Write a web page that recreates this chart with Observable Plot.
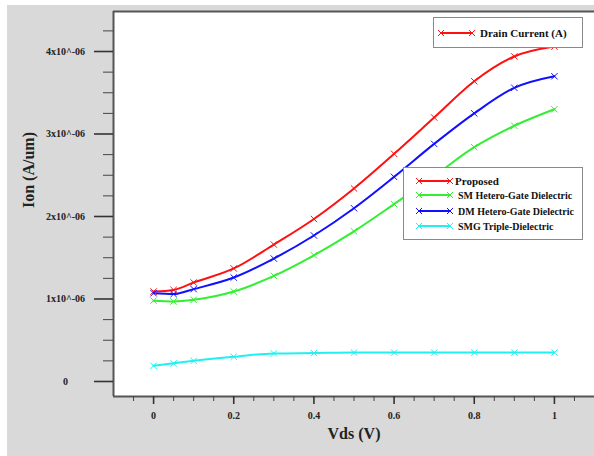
<!DOCTYPE html>
<html><head><meta charset="utf-8">
<script src="https://cdn.jsdelivr.net/npm/d3@7"></script>
<script src="https://cdn.jsdelivr.net/npm/@observablehq/plot@0.6"></script>
<style>
body{margin:0;background:#fff;width:594px;height:456px;position:relative;overflow:hidden;font-family:"Liberation Serif",serif;}
#wrap{position:absolute;left:7px;top:5px;width:587px;height:451px;background:#d9d9d9;}
#wrap svg text{font-family:"Liberation Serif",serif;}
.leg{position:absolute;background:#fff;border:1px solid #8a8a8a;box-sizing:border-box;}
.row{position:absolute;height:14px;display:flex;align-items:center;font-weight:bold;white-space:nowrap;color:#111;}
.row svg{flex:none;}
</style>
</head><body>
<div id="wrap"></div>
<script>
const vds = [0, 0.05, 0.1, 0.2, 0.3, 0.4, 0.5, 0.6, 0.7, 0.8, 0.9, 1.0];
const proposed  = [1.09, 1.11, 1.20, 1.37, 1.66, 1.97, 2.34, 2.76, 3.20, 3.64, 3.94, 4.06];
const smHetero  = [0.98, 0.97, 0.99, 1.09, 1.28, 1.53, 1.82, 2.15, 2.49, 2.84, 3.10, 3.30];
const dmHetero  = [1.07, 1.06, 1.12, 1.26, 1.49, 1.77, 2.10, 2.48, 2.88, 3.25, 3.56, 3.70];
const smgTriple = [0.19, 0.22, 0.25, 0.30, 0.34, 0.345, 0.35, 0.35, 0.35, 0.35, 0.35, 0.35];
const seriesNames = ["Proposed", "SM Hetero-Gate Dielectric", "DM Hetero-Gate Dielectric", "SMG Triple-Dielectric"];
const seriesColors = ["#ff1010", "#33ee33", "#1010ff", "#22f0f0"];
const seriesValues = [proposed, smHetero, dmHetero, smgTriple];
const unit = 1e-6;
const yMajor = [0, 1, 2, 3, 4];
const yMinor = [0.25, 0.5, 0.75, 1.25, 1.5, 1.75, 2.25, 2.5, 2.75, 3.25, 3.5, 3.75, 4.25];
const xMajor = [0, 0.2, 0.4, 0.6, 0.8, 1];
const xMajorLabels = ["0", "0.2", "0.4", "0.6", "0.8", "1"];
const xMinor = [-0.05, 0.05, 0.1, 0.15, 0.25, 0.3, 0.35, 0.45, 0.5, 0.55, 0.65, 0.7, 0.75, 0.85, 0.9, 0.95, 1.05];
const xDomain = [-0.1, 1.1];
const yDomain = [-0.182, 4.485];

const rows = seriesNames.flatMap((name, i) => vds.map((v, j) => ({name, vds: v, ion: seriesValues[i][j] * unit})));
const fmtY = d => d === 0 ? "0" : `${Math.round(d / unit)}x10^-06`;
const fmtX = d => xMajorLabels[xMajor.indexOf(d)] ?? String(d);
const ff = "Liberation Serif";

const chart = Plot.plot({
  width: 587, height: 451,
  marginLeft: 106, marginTop: 6, marginBottom: 60, marginRight: 0,
  style: {fontFamily: ff, background: "transparent", color: "#222"},
  x: {domain: xDomain},
  y: {domain: yDomain.map(d => d * unit)},
  color: {domain: seriesNames, range: seriesColors},
  marks: [
    Plot.frame({fill: "white", stroke: null}),
    Plot.ruleX([xDomain[0]], {stroke: "#555", strokeWidth: 2}),
    Plot.ruleY([yDomain[0] * unit], {stroke: "#555", strokeWidth: 2}),
    Plot.ruleY([yDomain[1] * unit], {stroke: "#555", strokeWidth: 2}),
    Plot.line(rows, {x: "vds", y: "ion", z: "name", stroke: "name", strokeWidth: 2, curve: "monotone-x"}),
    Plot.dot(rows, {x: "vds", y: "ion", stroke: "name", symbol: "times", r: 3, strokeWidth: 1}),
    Plot.axisY(yMajor.map(d => d * unit), {tickSize: 19, tickPadding: 29, textAnchor: "middle", tickFormat: fmtY, fontSize: 10, fontWeight: "bold", fontFamily: ff, strokeWidth: 1.6, stroke: "#333", label: null}),
    Plot.axisY(yMinor.map(d => d * unit), {tickSize: 10, tickFormat: () => "", strokeWidth: 1, stroke: "#444", label: null}),
    Plot.axisX(xMajor, {tickSize: 8, tickPadding: 7, tickFormat: fmtX, fontSize: 10, fontWeight: "bold", fontFamily: ff, strokeWidth: 1.6, stroke: "#333", label: null}),
    Plot.axisX(xMinor, {tickSize: 5, tickFormat: () => "", strokeWidth: 1, stroke: "#444", label: null}),
    Plot.text(["Vds (V)"], {frameAnchor: "bottom", dy: 42, fontSize: 16, fontWeight: "bold", fontFamily: ff, fill: "#222"}),
    Plot.text(["Ion (A/um)"], {frameAnchor: "left", rotate: -90, dx: -85, dy: 4, fontSize: 16, fontWeight: "bold", fontFamily: ff, fill: "#222"})
  ]
});
document.getElementById("wrap").appendChild(chart);

function sample(color, w) {
  return `<svg width="${w}" height="10" viewBox="0 0 ${w} 10"><line x1="3" y1="5" x2="${w-3}" y2="5" stroke="${color}" stroke-width="2"/>` +
    `<path d="M0,2 L6,8 M0,8 L6,2 M${w-6},2 L${w},8 M${w-6},8 L${w},2" stroke="${color}" stroke-width="1" fill="none"/></svg>`;
}
function legend(left, top, w, h, items) {
  const d = document.createElement("div");
  d.className = "leg";
  Object.assign(d.style, {left: left + "px", top: top + "px", width: w + "px", height: h + "px"});
  d.innerHTML = items.map(it => `<div class="row" style="left:${it.x}px;top:${it.y - 7}px;font-size:${it.fs}px">${sample(it.color, it.w)}<span style="margin-left:${it.gap}px">${it.label}</span></div>`).join("");
  document.body.appendChild(d);
}
legend(433, 17, 150, 31, [{x: 4, y: 15, color: seriesColors[0], w: 37, gap: 5, fs: 11, label: "Drain Current (A)"}]);
const legY = [13, 27, 43, 58];
legend(403, 167, 180, 73, seriesNames.map((n, i) => ({x: 12, y: legY[i], color: seriesColors[i], w: 37, gap: i === 0 ? 2 : 5, fs: i === 0 ? 11 : 10, label: n})));
</script>
</body></html>
